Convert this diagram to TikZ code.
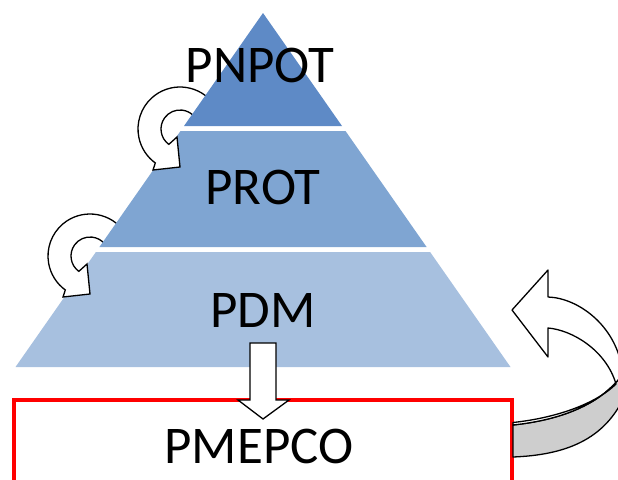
\documentclass[tikz,border=0pt]{standalone}
\usepackage{fontspec}
\setmainfont{Carlito}
\definecolor{bandtop}{RGB}{94,138,198}
\definecolor{bandmid}{RGB}{127,165,210}
\definecolor{bandlow}{RGB}{167,192,223}
\definecolor{sidegray}{RGB}{206,206,206}
\definecolor{boxred}{RGB}{255,0,0}
\begin{document}
\begin{tikzpicture}[x=1pt,y=1pt,
  tiertext/.style={font=\fontsize{53}{60}\selectfont, inner sep=0pt, anchor=base},
  hollow/.style={fill=white, draw=black, line width=1.3pt, line join=miter},
  sideface/.style={fill=sidegray, draw=black, line width=1.3pt, line join=round}]
\useasboundingbox (0,0) rectangle (618,-479);
\clip (0,0) rectangle (618,-479);

% lowest tier of the pyramid
\fill[bandlow] (15.5,-367) -- (510.5,-367) -- (430.1,-252) -- (95.9,-252) -- cycle;

% circular arrow between the middle and lowest tiers (tail tucked under the middle tier)
\draw[hollow] (90,-256) ++(40:42) arc[start angle=40, end angle=234, radius=42]
  -- (63,-297) -- (90,-294) -- (87,-264) -- (78.83,-271.37)
  arc[start angle=234, end angle=40, radius=19] -- cycle;

% middle tier
\fill[bandmid] (99.4,-247) -- (426.6,-247) -- (345.5,-131) -- (180.5,-131) -- cycle;

% circular arrow between the top and middle tiers
\draw[hollow] (180,-129) ++(42:42) arc[start angle=42, end angle=234, radius=42]
  -- (153,-170) -- (180,-167) -- (177,-137) -- (168.83,-144.37)
  arc[start angle=234, end angle=42, radius=19] -- cycle;

% top tier
\fill[bandtop] (184,-126) -- (342,-126) -- (263,-13) -- cycle;

% tier labels
\node[tiertext] (pnpot) at (260,-82) {PNPOT};
\node[tiertext] (prot) at (263,-204) {PROT};
\node[tiertext] (pdm) at (263,-327) {PDM};

% frame of the municipal plan
\draw[boxred, line width=4.5pt] (14,-400) rectangle (512,-495);
\node[tiertext] (pmepco) at (259,-463) {PMEPCO};

% block arrow from the lowest tier down into the frame
\draw[hollow] (250,-343) -- (276,-343) -- (276,-400) -- (289,-400) -- (263,-419)
  -- (238,-400) -- (250,-400) -- cycle;

% curved ribbon arrow on the right: side face first, then the top face with its head
\draw[sideface] (513,-425) -- (513,-457) .. controls (565,-455) and (605,-440) .. (625,-395)
  -- (622,-375) .. controls (600,-405) and (560,-420) .. (513,-425) -- cycle;
\draw[hollow, line join=round] (512,-310) -- (548,-270) -- (548,-297)
  .. controls (578,-298) and (615,-325) .. (622,-368) -- (622,-375)
  .. controls (600,-405) and (560,-420) .. (513,-425) -- (513,-422.5)
  .. controls (560,-417.5) and (598,-402) .. (616,-384)
  .. controls (606,-350) and (572,-330) .. (548,-328) -- (548,-357) -- cycle;
\end{tikzpicture}
\end{document}
